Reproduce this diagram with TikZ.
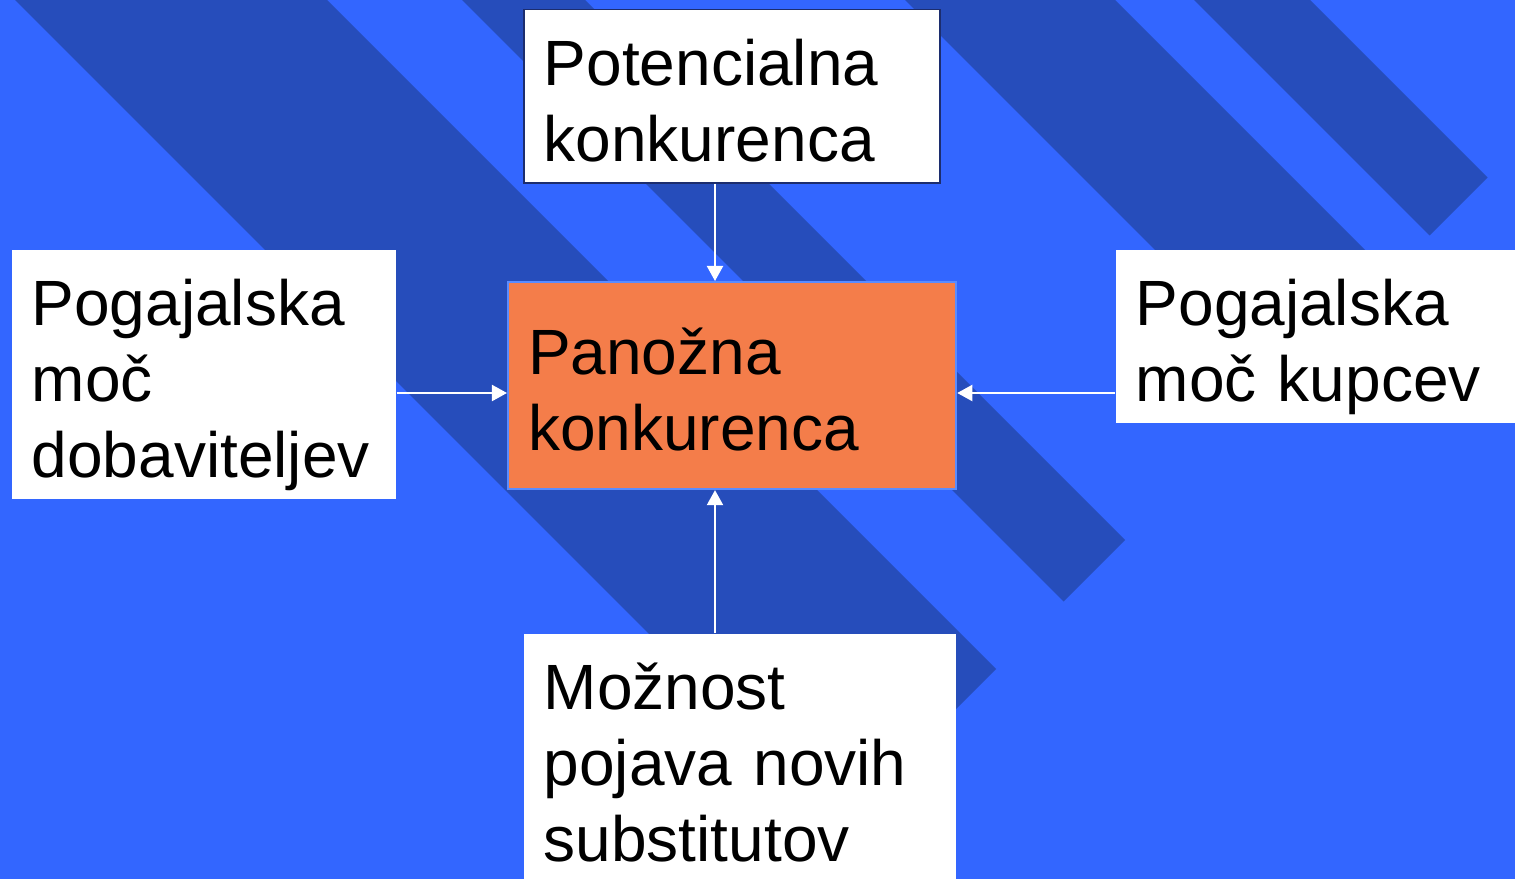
\documentclass[tikz,border=0pt]{standalone}
\usepackage{fontspec}
\setmainfont{Liberation Sans}
\usetikzlibrary{arrows.meta}

\definecolor{bgblue}{RGB}{51,102,255}
\definecolor{stripeblue}{RGB}{38,77,187}
\definecolor{boxorange}{RGB}{244,125,74}
\definecolor{edgeblue}{RGB}{90,140,255}
\definecolor{navy}{RGB}{28,45,110}

\tikzset{
  box/.style={anchor=north west, inner xsep=0.2cm, inner ysep=0pt, align=left,
    text height=0.76cm, font=\fontsize{18.2}{21.6}\selectfont},
  whitebox/.style={box, fill=white},
  mainbox/.style={box, fill=boxorange, draw=edgeblue, line width=0.02cm, text height=0.92cm},
  arr/.style={white, line width=0.02cm, -{Triangle[length=0.15cm,width=0.16cm]}}
}

\begin{document}
\begin{tikzpicture}[x=0.01cm,y=-0.01cm]
  \useasboundingbox (0,0) rectangle (1515,879);
  \fill[bgblue] (0,0) rectangle (1515,879);

  % diagonal stripes, cut off along x+y=1665
  \foreach \a/\b in {15/327,462/585,905/1115,1194/1310}
    \fill[stripeblue] (\a,0) -- (\b,0) -- ({(1665+\b)/2},{(1665-\b)/2})
      -- ({(1665+\a)/2},{(1665-\a)/2}) -- cycle;

  \node[mainbox, text width=4.08cm, text depth=1.15cm] (panozna) at (507,281) {Panožna\\konkurenca};
  \node[whitebox, draw=navy, line width=0.015cm, text width=3.76cm, text depth=0.97cm] (potencial) at (523,9) {Potencialna\\konkurenca};
  \node[whitebox, text width=3.44cm, text depth=1.73cm] (dobav) at (11,249) {Pogajalska\\moč\\dobaviteljev};
  \node[whitebox, text width=3.6cm, text depth=0.97cm] (kupci) at (1115,249) {Pogajalska\\moč kupcev};
  \node[whitebox, text width=3.92cm, text depth=1.71cm] (subst) at (523,633) {Možnost\\pojava novih\\substitutov};

  \coordinate (mid) at (715,393);

  \draw[arr] (potencial.south -| mid) -- (panozna.north -| mid);
  \draw[arr] (subst.north -| mid) -- (panozna.south -| mid);
  \draw[arr] (dobav.east |- mid) -- (panozna.west |- mid);
  \draw[arr] (kupci.west |- mid) -- (panozna.east |- mid);
\end{tikzpicture}
\end{document}
